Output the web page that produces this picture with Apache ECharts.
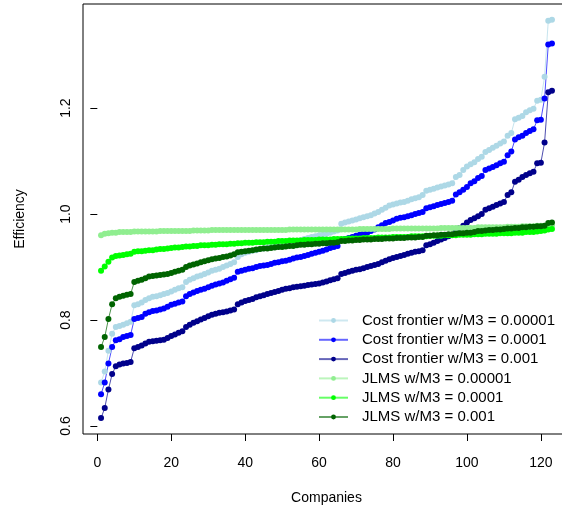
<!DOCTYPE html>
<html>
<head>
<meta charset="utf-8">
<script src="https://cdn.jsdelivr.net/npm/echarts@6/dist/echarts.min.js"></script>
<style>
  html, body { margin: 0; padding: 0; background: #fff; }
  #main { width: 562px; height: 511px; }
</style>
</head>
<body>
<div id="main"></div>
<script>
var seriesNames = [
  'Cost frontier w/M3 = 0.00001',
  'Cost frontier w/M3 = 0.0001',
  'Cost frontier w/M3 = 0.001',
  'JLMS w/M3 = 0.00001',
  'JLMS w/M3 = 0.0001',
  'JLMS w/M3 = 0.001'
];
var seriesColors = ['#ADD8E6', '#0000FF', '#00008B', '#90EE90', '#00FF00', '#006400'];

var xTicks = [0, 20, 40, 60, 80, 100, 120];
var yTicks = [0.6, 0.8, 1.0, 1.2];

// efficiency per company, sorted (companies 1..123)
var costM5 = [
  0.682, 0.703, 0.742, 0.774, 0.787, 0.789, 0.791, 0.794, 0.797,
  0.828, 0.830, 0.833, 0.838, 0.841, 0.844, 0.845, 0.847, 0.849, 0.851, 0.854, 0.857, 0.860, 0.862,
  0.872, 0.876, 0.879, 0.882, 0.884, 0.887, 0.890, 0.893, 0.895, 0.897, 0.900, 0.903, 0.906, 0.909,
  0.919, 0.924, 0.927, 0.929, 0.931, 0.932, 0.934, 0.935, 0.937, 0.938, 0.939, 0.940, 0.942, 0.943,
  0.945, 0.947, 0.949, 0.951, 0.953, 0.955, 0.957, 0.958, 0.960, 0.962, 0.963, 0.965, 0.967, 0.969,
  0.982, 0.984, 0.986, 0.988, 0.990, 0.992, 0.994, 0.996, 0.998, 1.001, 1.004, 1.008, 1.012, 1.016,
  1.018, 1.020, 1.022, 1.023, 1.025, 1.028, 1.030, 1.032, 1.036,
  1.044, 1.046, 1.048, 1.050, 1.052, 1.054, 1.056, 1.058,
  1.070, 1.074, 1.083, 1.090, 1.094, 1.098,
  1.104, 1.108, 1.117, 1.121, 1.125, 1.129, 1.133, 1.137,
  1.148, 1.153,
  1.179, 1.182, 1.185, 1.192, 1.196, 1.199,
  1.214, 1.216, 1.259, 1.365, 1.367
];
var costM4 = [
  0.660, 0.682, 0.718, 0.749, 0.762, 0.764, 0.768, 0.770, 0.772,
  0.802, 0.804, 0.806, 0.812, 0.815, 0.817, 0.818, 0.820, 0.822, 0.825, 0.829, 0.831, 0.833, 0.835,
  0.845, 0.849, 0.852, 0.855, 0.857, 0.859, 0.862, 0.865, 0.867, 0.869, 0.871, 0.874, 0.877, 0.880,
  0.891, 0.893, 0.895, 0.897, 0.898, 0.900, 0.902, 0.903, 0.904, 0.906, 0.908, 0.909, 0.911, 0.912,
  0.914, 0.916, 0.918, 0.919, 0.921, 0.923, 0.925, 0.927, 0.929, 0.931, 0.933, 0.936, 0.938, 0.940,
  0.951, 0.953, 0.955, 0.957, 0.959, 0.961, 0.963, 0.965, 0.968, 0.971, 0.975, 0.979, 0.983, 0.985,
  0.988, 0.991, 0.993, 0.994, 0.996, 0.998, 1.000, 1.002, 1.004,
  1.011, 1.013, 1.015, 1.017, 1.019, 1.021, 1.023, 1.025,
  1.037, 1.041, 1.046, 1.051, 1.058, 1.062,
  1.068, 1.072, 1.083, 1.086, 1.089, 1.092, 1.096, 1.099,
  1.111, 1.118,
  1.141, 1.145, 1.148, 1.153, 1.157, 1.160,
  1.177, 1.178, 1.218, 1.320, 1.322
];
var costM3 = [
  0.615, 0.634, 0.669, 0.698, 0.713, 0.716, 0.718, 0.719, 0.721,
  0.747, 0.749, 0.752, 0.756, 0.759, 0.760, 0.761, 0.762, 0.763, 0.766, 0.770, 0.773, 0.776, 0.779,
  0.787, 0.791, 0.795, 0.798, 0.801, 0.804, 0.807, 0.810, 0.812, 0.814, 0.815, 0.816, 0.818, 0.820,
  0.830, 0.833, 0.836, 0.838, 0.840, 0.843, 0.845, 0.847, 0.849, 0.851, 0.853, 0.855, 0.857, 0.859,
  0.860, 0.862, 0.863, 0.864, 0.865, 0.866, 0.867, 0.868, 0.869, 0.871, 0.873, 0.875, 0.877, 0.879,
  0.887, 0.889, 0.891, 0.893, 0.895, 0.896, 0.898, 0.900, 0.902, 0.904, 0.906, 0.909, 0.912, 0.915,
  0.917, 0.919, 0.921, 0.923, 0.925, 0.927, 0.929, 0.930, 0.932,
  0.941, 0.943, 0.946, 0.949, 0.952, 0.955, 0.958, 0.961,
  0.970, 0.974, 0.978, 0.984, 0.989, 0.992,
  0.996, 1.000, 1.008, 1.011, 1.014, 1.017, 1.020, 1.023,
  1.036, 1.041,
  1.061, 1.065, 1.070, 1.074, 1.077, 1.080,
  1.096, 1.097, 1.135, 1.230, 1.233
];
var jlmsM5 = [
  0.960, 0.963, 0.964, 0.965, 0.965, 0.966, 0.966, 0.966, 0.966,
  0.967, 0.967, 0.967, 0.967, 0.967, 0.967, 0.967, 0.968, 0.968, 0.968, 0.968, 0.968, 0.968, 0.968,
  0.968, 0.968, 0.969, 0.969, 0.969, 0.969, 0.969, 0.970, 0.970, 0.970, 0.970, 0.970, 0.970, 0.970,
  0.970, 0.970, 0.970, 0.970, 0.970, 0.970, 0.970, 0.970, 0.970, 0.970, 0.970, 0.970, 0.970, 0.970,
  0.971, 0.971, 0.971, 0.971, 0.971, 0.971, 0.971, 0.971, 0.971, 0.971, 0.971, 0.971, 0.971, 0.971,
  0.971, 0.971, 0.971, 0.971, 0.971, 0.972, 0.972, 0.972, 0.972, 0.972, 0.972, 0.972, 0.972, 0.972,
  0.973, 0.973, 0.973, 0.973, 0.973, 0.973, 0.973, 0.973, 0.973,
  0.973, 0.973, 0.973, 0.973, 0.974, 0.974, 0.974, 0.974,
  0.974, 0.974, 0.974, 0.974, 0.974, 0.974,
  0.975, 0.975, 0.975, 0.975, 0.975, 0.975, 0.975, 0.975,
  0.976, 0.976,
  0.976, 0.976, 0.977, 0.977, 0.977, 0.977,
  0.978, 0.978, 0.978, 0.979, 0.979
];
var jlmsM4 = [
  0.893, 0.901, 0.910, 0.918, 0.921, 0.922, 0.923, 0.924, 0.925,
  0.929, 0.930, 0.930, 0.931, 0.932, 0.932, 0.933, 0.934, 0.934, 0.935, 0.936, 0.937, 0.937, 0.938,
  0.939, 0.939, 0.940, 0.940, 0.941, 0.941, 0.941, 0.942, 0.942, 0.943, 0.943, 0.943, 0.944, 0.944,
  0.945, 0.945, 0.946, 0.946, 0.946, 0.947, 0.947, 0.947, 0.948, 0.948, 0.948, 0.949, 0.949, 0.949,
  0.950, 0.950, 0.950, 0.950, 0.951, 0.951, 0.951, 0.951, 0.952, 0.952, 0.952, 0.952, 0.953, 0.953,
  0.953, 0.953, 0.954, 0.954, 0.954, 0.954, 0.955, 0.955, 0.955, 0.955, 0.956, 0.956, 0.956, 0.956,
  0.957, 0.957, 0.957, 0.957, 0.957, 0.958, 0.958, 0.958, 0.958,
  0.958, 0.959, 0.959, 0.959, 0.959, 0.960, 0.960, 0.960,
  0.960, 0.961, 0.961, 0.961, 0.961, 0.962,
  0.962, 0.962, 0.963, 0.963, 0.963, 0.963, 0.964, 0.964,
  0.964, 0.964,
  0.965, 0.965, 0.965, 0.966, 0.966, 0.966,
  0.967, 0.968, 0.969, 0.971, 0.972
];
var jlmsM3 = [
  0.749, 0.768, 0.802, 0.830, 0.841, 0.844, 0.846, 0.848, 0.849,
  0.872, 0.874, 0.876, 0.879, 0.882, 0.883, 0.884, 0.885, 0.886, 0.887, 0.889, 0.891, 0.893, 0.895,
  0.900, 0.903, 0.905, 0.907, 0.909, 0.911, 0.913, 0.915, 0.916, 0.917, 0.919, 0.920, 0.922, 0.924,
  0.928, 0.929, 0.930, 0.931, 0.932, 0.933, 0.934, 0.935, 0.935, 0.936, 0.937, 0.938, 0.938, 0.939,
  0.940, 0.940, 0.941, 0.942, 0.942, 0.943, 0.943, 0.944, 0.944, 0.945, 0.945, 0.946, 0.946, 0.947,
  0.949, 0.949, 0.950, 0.950, 0.951, 0.951, 0.952, 0.952, 0.952, 0.953, 0.953, 0.953, 0.954, 0.954,
  0.954, 0.955, 0.955, 0.955, 0.956, 0.956, 0.956, 0.957, 0.957,
  0.959, 0.959, 0.960, 0.960, 0.961, 0.961, 0.962, 0.962,
  0.963, 0.964, 0.964, 0.965, 0.965, 0.966,
  0.968, 0.968, 0.969, 0.970, 0.970, 0.971, 0.971, 0.972,
  0.973, 0.973,
  0.974, 0.974, 0.975, 0.975, 0.976, 0.976,
  0.977, 0.977, 0.978, 0.983, 0.984
];

var allValues = [costM5, costM4, costM3, jlmsM5, jlmsM4, jlmsM3];
var font = 'Liberation Sans, Arial, Helvetica, sans-serif';

var chart = echarts.init(document.getElementById('main'));

var series = allValues.map(function(vals, s){
  return {
    name: seriesNames[s],
    type: 'line',
    data: vals.map(function(v, k){ return [k + 1, v]; }),
    symbol: 'circle',
    symbolSize: 6,
    showSymbol: true,
    animation: false,
    itemStyle: { color: seriesColors[s] },
    lineStyle: { color: seriesColors[s], width: 0.7 },
    emphasis: { disabled: true }
  };
});

chart.setOption({
  backgroundColor: '#fff',
  animation: false,
  grid: {
    left: 83, top: 4, width: 487, height: 430,
    outerBoundsMode: 'none',
    containLabel: false,
    show: true, borderColor: '#000', borderWidth: 1, backgroundColor: 'transparent'
  },
  xAxis: {
    type: 'value',
    min: -3.88, max: 127.88,
    name: 'Companies',
    nameLocation: 'middle',
    nameGap: 57,
    nameTextStyle: { color: '#000', fontSize: 14, fontFamily: font },
    axisLine: { show: false },
    splitLine: { show: false },
    axisTick: { show: true, inside: false, length: 7, lineStyle: { color: '#000' }, customValues: xTicks },
    axisLabel: { color: '#000', fontSize: 14, fontFamily: font, margin: 22, customValues: xTicks }
  },
  yAxis: {
    type: 'value',
    min: 0.585, max: 1.3965,
    name: 'Efficiency',
    nameLocation: 'middle',
    nameGap: 56,
    nameRotate: 90,
    nameTextStyle: { color: '#000', fontSize: 14, fontFamily: font },
    axisLine: { show: false },
    splitLine: { show: false },
    axisTick: { show: true, inside: false, length: 7, lineStyle: { color: '#000' }, customValues: yTicks },
    axisLabel: {
      color: '#000', fontSize: 14, fontFamily: font, rotate: 90, margin: 10,
      customValues: yTicks,
      formatter: function(v){ return v.toFixed(1); }
    }
  },
  legend: {
    orient: 'vertical',
    left: 318, top: 312,
    padding: 0,
    itemWidth: 29, itemHeight: 6, itemGap: 2.3,
    data: seriesNames,
    textStyle: { color: '#000', fontSize: 15, fontFamily: font, lineHeight: 17, padding: [0, 0, 0, 9] },
    lineStyle: { width: 2, opacity: 0.6 }
  },
  series: series
});
</script>
</body>
</html>
